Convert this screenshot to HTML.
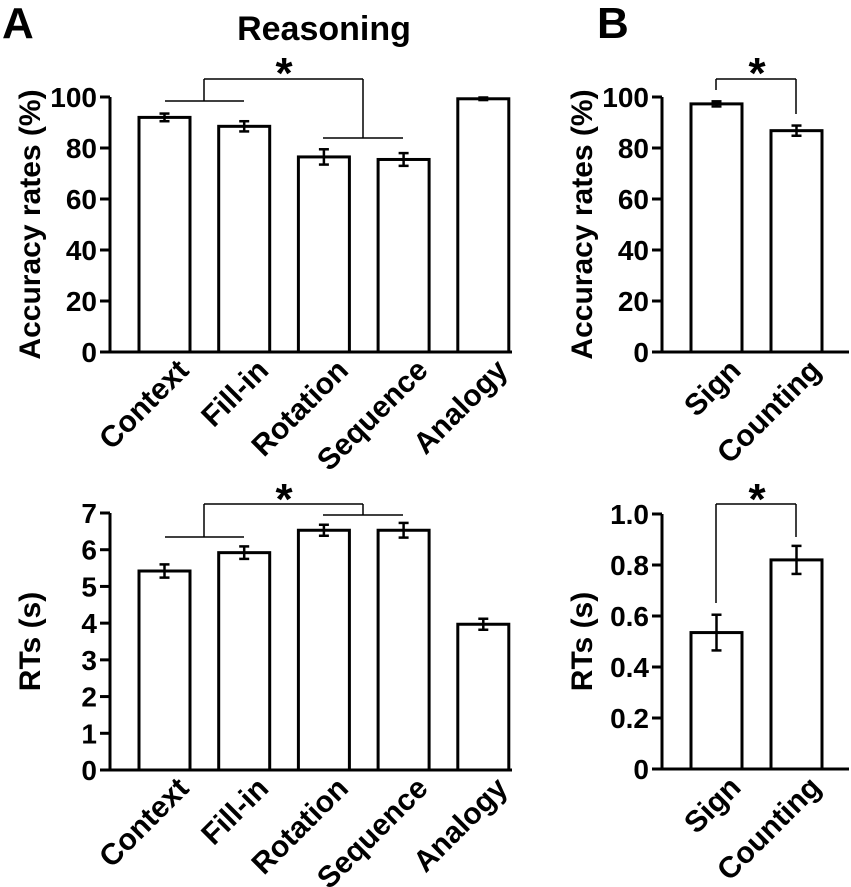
<!DOCTYPE html>
<html><head><meta charset="utf-8"><style>
html,body{margin:0;padding:0;background:#fff;}
svg{display:block;font-family:"Liberation Sans",Arial,sans-serif;font-weight:bold;}
</style></head><body>
<svg id="fig" width="851" height="887" viewBox="0 0 851 887" xmlns="http://www.w3.org/2000/svg">
<text x="2" y="38" font-size="44">A</text>
<text x="597" y="38" font-size="44">B</text>
<text x="324" y="40" font-size="34" text-anchor="middle">Reasoning</text>
<g id="plots"></g>
</svg>
<script>
const catsA = ["Context","Fill-in","Rotation","Sequence","Analogy"];
const accA = [92, 88.5, 76.5, 75.5, 99.3];
const accAErr = [1.5, 2, 3, 2.5, 0.5];
const rtA = [5.42, 5.92, 6.53, 6.53, 3.97];
const rtAErr = [0.18, 0.17, 0.15, 0.2, 0.15];
const catsB = ["Sign","Counting"];
const accB = [97.3, 86.8];
const accBErr = [1, 2];
const rtB = [0.535, 0.82];
const rtBErr = [0.07, 0.055];
const ticksAcc = [0,20,40,60,80,100];
const ticksRtA = [0,1,2,3,4,5,6,7];
const ticksRtB = ["0","0.2","0.4","0.6","0.8","1.0"];

const NS="http://www.w3.org/2000/svg";
const root=document.getElementById('plots');
function mk(tag,attrs,parent){const e=document.createElementNS(NS,tag);for(const k in attrs)e.setAttribute(k,attrs[k]);(parent||root).appendChild(e);return e;}
function line(x1,y1,x2,y2,w,name,p){const l=mk('line',{x1,y1,x2,y2,stroke:'#000','stroke-width':w},p);


return l;}

function panel(o){
  const g=mk('g',{});
  
  
  const y=v=>o.y0-(v/o.max)*(o.y0-o.yTop);
  line(o.ax,o.yTop,o.ax,o.y0+1.5,3,'y-axis',g);
  line(o.ax-10,o.y0,o.axEnd,o.y0,3,'x-axis',g);
  o.ticks.forEach(t=>{const v=parseFloat(t);const yy=y(v);
    line(o.ax-10,yy,o.ax,yy,3,'y-tick',g);
    const tx=mk('text',{x:o.ax-13,y:yy+10,'font-size':28,'text-anchor':'end'},g);
    
    
    tx.textContent=t;});
  const yt=mk('text',{x:0,y:0,'font-size':30,'text-anchor':'middle',transform:`translate(${o.titleX},${(o.yTop+o.y0)/2}) rotate(-90)`},g);
  
  
  yt.textContent=o.title;
  o.cats.forEach((c,i)=>{
    const x0=o.bx0+i*o.step, cx=x0+o.bw/2;
    const r=mk('rect',{x:x0,y:y(o.vals[i]),width:o.bw,height:o.y0-y(o.vals[i]),fill:'#fff',stroke:'#000','stroke-width':3},g);
    
    
    const hi=y(o.vals[i]+o.err[i]), lo=y(o.vals[i]-o.err[i]);
    line(cx,hi,cx,lo,2.5,'error-bar',g);
    line(cx-5,hi,cx+5,hi,2.5,'error-cap',g);
    line(cx-5,lo,cx+5,lo,2.5,'error-cap',g);
    const lab=mk('text',{x:0,y:0,'font-size':30,'text-anchor':'end',transform:`translate(${cx+o.lx},${o.y0+o.ly}) rotate(-45)`},g);
    
    
    lab.textContent=c;
  });
  o.brackets.forEach(b=>line(b[0],b[1],b[2],b[3],1.5,'significance-bracket',g));
  const s=mk('text',{x:o.star[0],y:o.star[1],'font-size':44,'text-anchor':'middle'},g);
  
  
  s.textContent='*';
}
const stepA=79.7;
panel({name:'accuracy-reasoning',cats:catsA,vals:accA,err:accAErr,max:100,ticks:ticksAcc.map(String),ax:110,axEnd:512,yTop:97,y0:352,bx0:139,bw:51,step:stepA,title:'Accuracy rates (%)',titleX:40,lx:26,ly:20,
 brackets:[[165,101,244,101],[204,79,204,101],[204,79,363,79],[363,79,363,138],[323,138,403,138]],star:[284,88]});
panel({name:'rt-reasoning',cats:catsA,vals:rtA,err:rtAErr,max:7,ticks:ticksRtA.map(String),ax:110,axEnd:512,yTop:513,y0:770,bx0:139,bw:51,step:stepA,title:'RTs (s)',titleX:40,lx:26,ly:20,
 brackets:[[165,537,244,537],[204,504,204,537],[204,504,363,504],[363,504,363,515],[323,515,403,515]],star:[284,514]});
panel({name:'accuracy-sign-counting',cats:catsB,vals:accB,err:accBErr,max:100,ticks:ticksAcc.map(String),ax:662,axEnd:849,yTop:97,y0:352,bx0:691,bw:51,step:80,title:'Accuracy rates (%)',titleX:592,lx:26,ly:20,
 brackets:[[716,79,796,79],[716,79,716,90],[796,79,796,114]],star:[757,88]});
panel({name:'rt-sign-counting',cats:catsB,vals:rtB,err:rtBErr,max:1,ticks:ticksRtB,ax:662,axEnd:849,yTop:514,y0:769,bx0:691,bw:51,step:80,title:'RTs (s)',titleX:592,lx:26,ly:20,
 brackets:[[716,504,796,504],[716,504,716,603],[796,504,796,537]],star:[757,514]});
</script>
</body></html>
